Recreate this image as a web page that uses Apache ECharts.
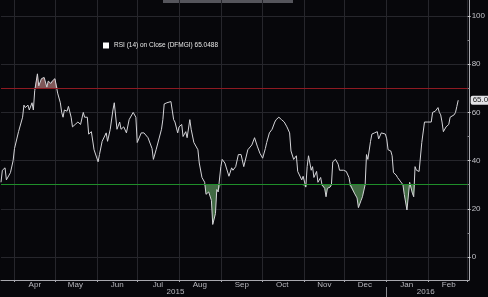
<!DOCTYPE html>
<html><head><meta charset="utf-8">
<script src="https://cdn.jsdelivr.net/npm/echarts@6/dist/echarts.min.js"></script>
<style>html,body{margin:0;padding:0;background:#07070b;}#c{width:488px;height:297px;}</style>
</head><body><div id="c"></div>
<script>
const seriesName = 'RSI (14) on Close (DFMGI) 65.0488';
const lastValueLabel = '65.04';
const lastValue = 65.0488;
const overbought = 70;
const oversold = 30;
const monthLabels = ['Jan','Feb','Mar','Apr','May','Jun','Jul','Aug','Sep','Oct','Nov','Dec'];
const axisStart = '2015-03-22';
const axisEnd = '2016-03-02';
const yearLabelDates = {'2015-07-29':'2015','2016-01-30':'2016'};
const yearSeparatorDate = '2016-01-01';

const rsiDates = [
'2015-03-22','2015-03-23','2015-03-25','2015-03-26','2015-03-29','2015-03-31',
'2015-04-01','2015-04-04','2015-04-07','2015-04-08','2015-04-09','2015-04-11','2015-04-12','2015-04-14','2015-04-15','2015-04-16','2015-04-18','2015-04-19','2015-04-21','2015-04-23','2015-04-25','2015-04-26','2015-04-28','2015-04-29',
'2015-05-01','2015-05-02','2015-05-03','2015-05-05','2015-05-06','2015-05-07','2015-05-08','2015-05-10','2015-05-11','2015-05-13','2015-05-14','2015-05-16','2015-05-18','2015-05-20','2015-05-22','2015-05-23','2015-05-25','2015-05-26','2015-05-28','2015-05-30',
'2015-06-02','2015-06-03','2015-06-05','2015-06-08','2015-06-09','2015-06-11','2015-06-13','2015-06-14','2015-06-16','2015-06-18','2015-06-19','2015-06-21','2015-06-23','2015-06-25','2015-06-28','2015-06-30',
'2015-07-01','2015-07-04','2015-07-06','2015-07-09','2015-07-12','2015-07-13','2015-07-15','2015-07-16','2015-07-19','2015-07-20','2015-07-21','2015-07-23','2015-07-26','2015-07-28','2015-07-29','2015-07-31',
'2015-08-01','2015-08-03','2015-08-04','2015-08-06','2015-08-07','2015-08-09','2015-08-10','2015-08-12','2015-08-15','2015-08-16','2015-08-18','2015-08-20','2015-08-21','2015-08-23','2015-08-25','2015-08-26','2015-08-28','2015-08-29','2015-08-30',
'2015-09-01','2015-09-02','2015-09-04','2015-09-07','2015-09-09','2015-09-10','2015-09-12','2015-09-14','2015-09-16','2015-09-18','2015-09-19','2015-09-21','2015-09-24','2015-09-26','2015-09-28','2015-09-30',
'2015-10-02','2015-10-04','2015-10-05','2015-10-07','2015-10-09','2015-10-11','2015-10-12','2015-10-14','2015-10-16','2015-10-18','2015-10-20','2015-10-22','2015-10-23','2015-10-25','2015-10-27','2015-10-28','2015-10-31',
'2015-11-01','2015-11-03','2015-11-04','2015-11-05','2015-11-07','2015-11-08','2015-11-09','2015-11-11','2015-11-12','2015-11-14','2015-11-15','2015-11-17','2015-11-18','2015-11-19','2015-11-21','2015-11-22','2015-11-23','2015-11-25','2015-11-27','2015-11-28',
'2015-12-01','2015-12-03','2015-12-05','2015-12-06','2015-12-09','2015-12-11','2015-12-12','2015-12-14','2015-12-15','2015-12-17','2015-12-18','2015-12-19','2015-12-21','2015-12-22','2015-12-24','2015-12-26','2015-12-27','2015-12-29',
'2016-01-01','2016-01-02','2016-01-03','2016-01-05','2016-01-06','2016-01-07','2016-01-09','2016-01-10','2016-01-12','2016-01-14','2016-01-15','2016-01-17','2016-01-18','2016-01-19','2016-01-21','2016-01-22','2016-01-23','2016-01-24','2016-01-26','2016-01-28','2016-01-30',
'2016-02-01','2016-02-02','2016-02-04','2016-02-05','2016-02-07','2016-02-09','2016-02-10','2016-02-11','2016-02-12','2016-02-13','2016-02-15','2016-02-17','2016-02-18','2016-02-19','2016-02-21','2016-02-22','2016-02-23','2016-02-24'
];
const rsiValues = [
31,36,37,32,35,40,
45,52,58,63,62,63,61,64,61,69,76,71,74,74.5,70.5,73,72,73,
74,74.5,68,64,60,58,61,60.5,62.5,58,54,55,56,55,60,58,58,51,52,44.5,
39.5,42.5,48,51.5,48,53,61,64,53,56,53,54,51.5,57,60,58,
47.5,51.5,51.5,49.5,45,40.5,44.5,44,53,57,63.5,64,64.5,57,56,51.5,
54,55,50,52,49.5,57,53,47.5,44.5,39,33,31,26,27,23.5,13.5,18,28,27,
37.5,40.5,39,33.5,37,36,37.5,42.5,42.5,37.5,37,44.5,46.5,49.5,46,43,
41,45,47.5,51.5,53,56,57,58,57,56,54,51.5,44,40.5,42,35.5,32,
33.5,29,37.5,42,36,37.5,33,35.5,31,33,30,28.5,25,28.5,29,30,39.5,40.5,38.5,36,
36,35.5,33,30,26.5,24.5,20.5,23.5,25,30,42.5,40.5,48,51,51.5,52,49,51.5,
51,49,44.5,44,42,35,34,33,31.5,30,26,19.5,19,31,26.5,25,37.5,36,35.5,47.5,56,
56,56,56,60,60.5,62,60,59,56,52,54,55,58,58,59,60,62.5,65.0488
];

function fmt(d){return d.toISOString().slice(0,10);}
const categories = [];
for (let d = new Date(axisStart+'T00:00:00Z'); fmt(d) <= axisEnd; d = new Date(d.getTime()+86400000)) categories.push(fmt(d));
const catIndex = {};
categories.forEach((c,i)=>catIndex[c]=i);
const mainData = rsiDates.map((d,k)=>[catIndex[d], rsiValues[k]]);
const obData = rsiDates.map((d,k)=>[catIndex[d], Math.max(rsiValues[k], overbought)]);
const osData = rsiDates.map((d,k)=>[catIndex[d], Math.min(rsiValues[k], oversold)]);

const FONT = 'Liberation Sans';
const gridColor = '#26262c';
const chart = echarts.init(document.getElementById('c'), null, {renderer:'canvas'});
chart.setOption({
  backgroundColor: '#07070b',
  animation: false,
  textStyle: {fontFamily: FONT},
  graphic: [{type:'rect', shape:{x:163, y:0, width:130, height:3}, style:{fill:'#55555c'}, silent:true}],
  legend: {
    data: [{name: seriesName, itemStyle:{color:'#ffffff'}}],
    icon: 'rect', itemWidth: 6, itemHeight: 6, left: 103, top: 42, padding: 0,
    textStyle: {color:'#e6e6e6', fontSize: 6.5, fontFamily: FONT}
  },
  grid: [
    {left: 1, right: 19, top: 16, bottom: 40},
    {left: 1, right: 19, top: 0, bottom: 17}
  ],
  xAxis: [
    {gridIndex:0, type:'category', data: categories, boundaryGap:false, show:false},
    {gridIndex:1, type:'category', data: categories, boundaryGap:false,
      axisLine:{show:true, lineStyle:{color:'#a8a8ae', width:1}},
      axisTick:{show:true, length:2, interval:(i,v)=>v.slice(8)==='01', lineStyle:{color:'#a8a8ae'}},
      splitLine:{show:true, interval:(i,v)=>v.slice(8)==='01', lineStyle:{color:gridColor, width:1}},
      axisLabel:{show:true, interval:(i,v)=>v.slice(8)==='16', formatter:(v)=>monthLabels[+v.slice(5,7)-1], color:'#b8b8be', fontSize:8, margin:1, fontFamily:FONT}
    },
    {gridIndex:1, type:'category', data: categories, boundaryGap:false, position:'bottom', offset:7,
      axisLine:{show:false},
      axisTick:{show:true, length:10, interval:(i,v)=>v===yearSeparatorDate, lineStyle:{color:'#8a8a90'}},
      splitLine:{show:false},
      axisLabel:{show:true, interval:(i,v)=>!!yearLabelDates[v], formatter:(v)=>yearLabelDates[v]||'', color:'#b8b8be', fontSize:8, margin:1, fontFamily:FONT}
    }
  ],
  yAxis: [
    {gridIndex:0, type:'value', position:'right', min:0, max:100, interval:20,
      axisLine:{show:false},
      axisTick:{show:true, length:3, lineStyle:{color:'#c8c8cc'}},
      minorTick:{show:true, splitNumber:2, length:2, lineStyle:{color:'#8a8a90'}},
      splitLine:{show:true, lineStyle:{color:gridColor, width:1}},
      axisLabel:{color:'#c0c0c6', fontSize:8, margin:4, fontFamily:FONT}
    },
    {gridIndex:1, type:'value', position:'right', min:0, max:1,
      axisLine:{show:true, lineStyle:{color:'#a8a8ae', width:1}},
      axisTick:{show:false}, axisLabel:{show:false}, splitLine:{show:false}
    }
  ],
  series: [
    {type:'line', name:'ob', xAxisIndex:0, yAxisIndex:0, data: obData, symbol:'none', silent:true,
      lineStyle:{width:0}, areaStyle:{origin: overbought, color:'rgba(220,150,150,0.8)'}, z:1},
    {type:'line', name:'os', xAxisIndex:0, yAxisIndex:0, data: osData, symbol:'none', silent:true,
      lineStyle:{width:0}, areaStyle:{origin: oversold, color:'rgba(105,175,105,0.85)'}, z:1},
    {type:'line', name: seriesName, xAxisIndex:0, yAxisIndex:0, data: mainData, symbol:'none',
      lineStyle:{color:'#d4d4d8', width:1}, itemStyle:{color:'#d4d4d8'}, z:3,
      markLine:{silent:true, symbol:['none','none'], animation:false,
        data:[
          {yAxis: overbought, lineStyle:{color:'#8e1a22', width:1, type:'solid'}, label:{show:false}},
          {yAxis: oversold, lineStyle:{color:'#1f8e2a', width:1, type:'solid'}, label:{show:false}},
          {yAxis: lastValue, lineStyle:{color:'rgba(0,0,0,0)', width:0}, label:{show:true, position:'end', distance:3, formatter: lastValueLabel, color:'#1a1a1a', backgroundColor:'#e2e2e6', padding:[1,2,0,2], borderRadius:2, fontSize:8, fontFamily:FONT}}
        ]}
    }
  ]
});
</script></body></html>
